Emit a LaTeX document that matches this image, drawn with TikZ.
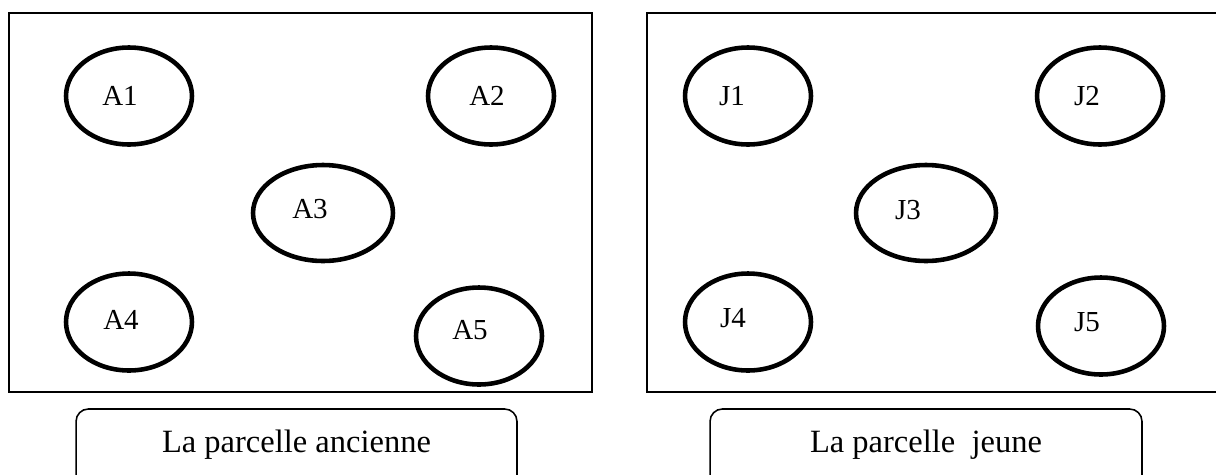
\documentclass[tikz,border=0pt]{standalone}
\usepackage{fontspec}
\setmainfont{Liberation Serif}
\usetikzlibrary{shapes.geometric, positioning}

\begin{document}
\begin{tikzpicture}[
  x=0.02cm, y=-0.02cm,
  %% Styles : arbres (ellipses épaisses), cadres et légendes
  arbre/.style={ellipse, draw, line width=2.6pt, inner sep=0pt,
                minimum width=2.52cm, minimum height=1.94cm},
  arbregr/.style={arbre, minimum width=2.80cm, minimum height=1.92cm},
  etq/.style={font=\fontsize{16.5}{18}\selectfont, inner sep=0pt},
  cadre/.style={rectangle, draw, line width=0.9pt, inner sep=0pt,
                minimum height=7.58cm},
  legende/.style={rectangle, draw, line width=0.9pt, rounded corners=7pt,
                  minimum height=1.62cm, inner sep=0pt,
                  text height=0.36cm, text depth=0.24cm,
                  font=\fontsize{18.5}{20}\selectfont}
]
\clip (0,0) rectangle (1216,474);

%% ── Parcelle ancienne ────────────────────────────────────────────────────
\node[cadre, minimum width=11.66cm] (cadreA) at (300.5,202.5) {};

\node[arbre]   (A1) at (129,96)  {};
\node[arbre]   (A2) at (491,96)  {};
\node[arbregr] (A3) at (323,213) {};
\node[arbre]   (A4) at (129,322) {};
\node[arbre]   (A5) at (479,336) {};

\node[etq] (tA1) at (120,96)  {A1};
\node[etq] (tA2) at (487,96)  {A2};
\node[etq] (tA3) at (310,209) {A3};
\node[etq] (tA4) at (121,320) {A4};
\node[etq] (tA5) at (470,330) {A5};

\node[legende, minimum width=8.82cm] (legA) at (296.5,449.5) {La parcelle ancienne};

%% ── Parcelle jeune ───────────────────────────────────────────────────────
\node[cadre, minimum width=11.56cm] (cadreJ) at (936,202.5) {};

\node[arbre]   (J1) at (748,96)   {};
\node[arbre]   (J2) at (1100,96)  {};
\node[arbregr] (J3) at (926,213)  {};
\node[arbre]   (J4) at (748,322)  {};
\node[arbre]   (J5) at (1101,326) {};

\node[etq] (tJ1) at (732,96)   {J1};
\node[etq] (tJ2) at (1087,96)  {J2};
\node[etq] (tJ3) at (908,210)  {J3};
\node[etq] (tJ4) at (733,318)  {J4};
\node[etq] (tJ5) at (1087,322) {J5};

\node[legende, minimum width=8.64cm] (legJ) at (926,449.5) {La parcelle\ \ jeune};

\end{tikzpicture}
\end{document}
